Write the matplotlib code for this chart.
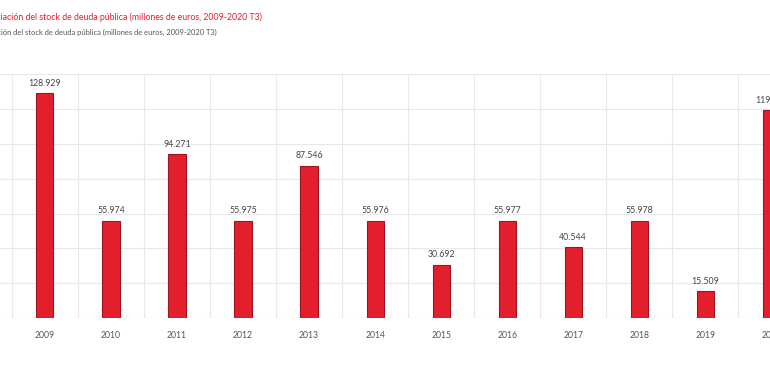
import matplotlib
matplotlib.use('Agg')
import matplotlib.pyplot as plt

years = ['2009', '2010', '2011', '2012', '2013', '2014', '2015', '2016', '2017', '2018', '2019', '2020']
values = [128929, 55974, 94271, 55975, 87546, 55976, 30692, 55977, 40544, 55978, 15509, 119180]
title_red = 'Variación del stock de deuda pública (millones de euros, 2009-2020 T3)'
title_grey = 'Variación del stock de deuda pública (millones de euros, 2009-2020 T3)'

plt.rcParams['font.family'] = ['Lato', 'DejaVu Sans']

fig = plt.figure(figsize=(7.7, 3.8), dpi=100)
ax = fig.add_axes([0, 0.163, 1, 0.642])

x = list(range(len(years)))
ax.bar(x, values, width=0.26, color='#e31e2d', edgecolor='#9e1420', linewidth=0.8, zorder=3)

for xi, v in zip(x, values):
    lab = f'{v:,}'.replace(',', '.')
    ax.text(xi, v + 3000, lab, ha='center', va='bottom', fontsize=6.3, color='#444444', zorder=4)

# gridlines between categories
ax.set_xticks([i - 0.5 for i in range(len(years) + 1)])
ax.set_xticklabels([])
ax.set_yticks(range(0, 140001, 20000))
ax.set_xlim(-0.68, 10.98)
ax.set_ylim(0, 140000)
ax.tick_params(axis='both', length=0, labelleft=False)
ax.grid(True, color='#e8e8e8', linewidth=0.8, zorder=0)
for s in ax.spines.values():
    s.set_visible(False)
ax.axhline(0, color='#dddddd', linewidth=0.8, zorder=2)

for xi, yr in zip(x, years):
    ax.text(xi, -10000, yr, ha='center', va='center', fontsize=6.2, color='#555555', clip_on=False)

fig.text(-0.017, 0.955, title_red, fontsize=6.3, color='#e31e2d', ha='left', va='center')
fig.text(-0.026, 0.915, title_grey, fontsize=5.4, color='#555555', ha='left', va='center')

fig.savefig('out.png', dpi=100, facecolor='white')
